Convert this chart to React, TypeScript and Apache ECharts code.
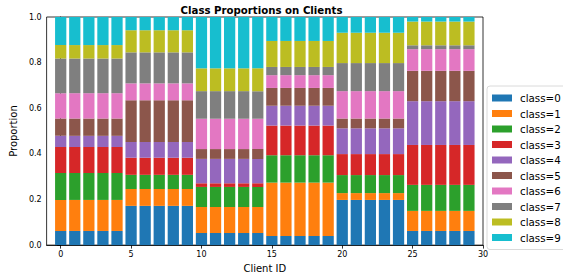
import React, { useEffect, useRef } from "react";
import * as echarts from "echarts";

const clientIds = [
  0, 1, 2, 3, 4, 5, 6, 7, 8, 9, 10, 11, 12, 13, 14,
  15, 16, 17, 18, 19, 20, 21, 22, 23, 24, 25, 26, 27, 28, 29,
];
const classNames = ["class=0", "class=1", "class=2", "class=3", "class=4", "class=5", "class=6", "class=7", "class=8", "class=9"];
const classColors = ["#1f77b4", "#ff7f0e", "#2ca02c", "#d62728", "#9467bd", "#8c564b", "#e377c2", "#7f7f7f", "#bcbd22", "#17becf"];

const class0 = [0.062, 0.062, 0.062, 0.062, 0.062, 0.172, 0.172, 0.172, 0.172, 0.172, 0.053, 0.053, 0.053, 0.053, 0.053, 0.040, 0.040, 0.040, 0.040, 0.040, 0.198, 0.198, 0.198, 0.198, 0.198, 0.062, 0.062, 0.062, 0.062, 0.062];
const class1 = [0.136, 0.136, 0.136, 0.136, 0.136, 0.074, 0.074, 0.074, 0.074, 0.074, 0.114, 0.114, 0.114, 0.114, 0.114, 0.234, 0.234, 0.234, 0.234, 0.234, 0.030, 0.030, 0.030, 0.030, 0.030, 0.088, 0.088, 0.088, 0.088, 0.088];
const class2 = [0.118, 0.118, 0.118, 0.118, 0.118, 0.062, 0.062, 0.062, 0.062, 0.062, 0.088, 0.088, 0.088, 0.088, 0.088, 0.120, 0.120, 0.120, 0.120, 0.120, 0.079, 0.079, 0.079, 0.079, 0.079, 0.114, 0.114, 0.114, 0.114, 0.114];
const class3 = [0.114, 0.114, 0.114, 0.114, 0.114, 0.075, 0.075, 0.075, 0.075, 0.075, 0.016, 0.016, 0.016, 0.016, 0.016, 0.130, 0.130, 0.130, 0.130, 0.130, 0.092, 0.092, 0.092, 0.092, 0.092, 0.175, 0.175, 0.175, 0.175, 0.175];
const class4 = [0.049, 0.049, 0.049, 0.049, 0.049, 0.069, 0.069, 0.069, 0.069, 0.069, 0.107, 0.107, 0.107, 0.107, 0.107, 0.087, 0.087, 0.087, 0.087, 0.087, 0.113, 0.113, 0.113, 0.113, 0.113, 0.192, 0.192, 0.192, 0.192, 0.192];
const class5 = [0.076, 0.076, 0.076, 0.076, 0.076, 0.183, 0.183, 0.183, 0.183, 0.183, 0.043, 0.043, 0.043, 0.043, 0.043, 0.078, 0.078, 0.078, 0.078, 0.078, 0.043, 0.043, 0.043, 0.043, 0.043, 0.133, 0.133, 0.133, 0.133, 0.133];
const class6 = [0.111, 0.111, 0.111, 0.111, 0.111, 0.074, 0.074, 0.074, 0.074, 0.074, 0.133, 0.133, 0.133, 0.133, 0.133, 0.056, 0.056, 0.056, 0.056, 0.056, 0.120, 0.120, 0.120, 0.120, 0.120, 0.095, 0.095, 0.095, 0.095, 0.095];
const class7 = [0.152, 0.152, 0.152, 0.152, 0.152, 0.136, 0.136, 0.136, 0.136, 0.136, 0.121, 0.121, 0.121, 0.121, 0.121, 0.036, 0.036, 0.036, 0.036, 0.036, 0.123, 0.123, 0.123, 0.123, 0.123, 0.017, 0.017, 0.017, 0.017, 0.017];
const class8 = [0.059, 0.059, 0.059, 0.059, 0.059, 0.097, 0.097, 0.097, 0.097, 0.097, 0.100, 0.100, 0.100, 0.100, 0.100, 0.114, 0.114, 0.114, 0.114, 0.114, 0.133, 0.133, 0.133, 0.133, 0.133, 0.104, 0.104, 0.104, 0.104, 0.104];
const class9 = [0.123, 0.123, 0.123, 0.123, 0.123, 0.058, 0.058, 0.058, 0.058, 0.058, 0.225, 0.225, 0.225, 0.225, 0.225, 0.105, 0.105, 0.105, 0.105, 0.105, 0.069, 0.069, 0.069, 0.069, 0.069, 0.020, 0.020, 0.020, 0.020, 0.020];

const classValues = [class0, class1, class2, class3, class4, class5, class6, class7, class8, class9];
const xTicks = [0, 5, 10, 15, 20, 25, 30];
const yTicks = [0, 0.2, 0.4, 0.6, 0.8, 1.0];

const FONT = "DejaVu Sans";
const BAR_WIDTH = 0.8;

export default function App() {
  const ref = useRef<HTMLDivElement>(null);
  useEffect(() => {
    if (!ref.current) return;
    const chart = echarts.init(ref.current, null, { renderer: "svg" });

    const bases = clientIds.map(() => 0);
    const series = classValues.map((vals, k) => {
      const data = clientIds.map((id, i) => {
        const bottom = bases[i];
        const top = bottom + vals[i];
        bases[i] = top;
        return [id, bottom, top];
      });
      return {
        type: "custom",
        name: classNames[k],
        itemStyle: { color: classColors[k] },
        encode: { x: 0, y: [1, 2] },
        data,
        renderItem: (_params: any, api: any) => {
          const x = api.value(0);
          const y0 = api.value(1);
          const y1 = api.value(2);
          const p0 = api.coord([x - BAR_WIDTH / 2, y1]);
          const p1 = api.coord([x + BAR_WIDTH / 2, y0]);
          return {
            type: "rect",
            shape: { x: p0[0], y: p0[1], width: p1[0] - p0[0], height: p1[1] - p0[1] },
            style: { fill: classColors[k] },
          };
        },
      };
    });

    chart.setOption({
      animation: false,
      textStyle: { fontFamily: FONT },
      grid: {
        left: 40,
        right: 80,
        top: 17,
        bottom: 30,
        show: true,
        borderColor: "#000",
        borderWidth: 0.8,
        backgroundColor: "transparent",
      },
      graphic: [
        {
          type: "text",
          x: 261.5,
          y: 10,
          style: {
            text: "Class Proportions on Clients",
            fontFamily: FONT,
            fontSize: 10.2,
            fontWeight: "bold",
            fill: "#000",
            align: "center",
            verticalAlign: "middle",
          },
        },
      ],
      legend: {
        orient: "vertical",
        left: 487,
        top: 86,
        padding: [7, 6, 7, 5],
        itemWidth: 20,
        itemHeight: 7,
        itemGap: 5.5,
        icon: "rect",
        borderColor: "#d0d0d0",
        borderWidth: 0.8,
        borderRadius: 3,
        backgroundColor: "#fff",
        textStyle: { fontFamily: FONT, fontSize: 10.3, color: "#000", lineHeight: 10, padding: [0, 0, 0, 3] },
        data: classNames,
      },
      xAxis: {
        type: "value",
        min: -1,
        max: 30,
        name: "Client ID",
        nameLocation: "middle",
        nameGap: 16,
        nameTextStyle: { fontFamily: FONT, fontSize: 10, color: "#000" },
        axisLine: { show: true, lineStyle: { color: "#000", width: 0.8 } },
        axisTick: { show: true, length: 3.5, lineStyle: { color: "#000", width: 0.8 }, customValues: xTicks },
        axisLabel: { fontFamily: FONT, fontSize: 8, color: "#000", margin: 5, customValues: xTicks },
        splitLine: { show: false },
      },
      yAxis: {
        type: "value",
        min: 0,
        max: 1,
        interval: 0.2,
        name: "Proportion",
        nameLocation: "middle",
        nameGap: 26,
        nameTextStyle: { fontFamily: FONT, fontSize: 10, color: "#000" },
        axisLine: { show: true, lineStyle: { color: "#000", width: 0.8 } },
        axisTick: { show: true, length: 3.5, lineStyle: { color: "#000", width: 0.8 }, customValues: yTicks },
        axisLabel: {
          fontFamily: FONT,
          fontSize: 8,
          color: "#000",
          margin: 5,
          customValues: yTicks,
          formatter: (v: number) => v.toFixed(1),
        },
        splitLine: { show: false },
      },
      series,
    });
    return () => chart.dispose();
  }, []);
  return (
    <div
      ref={ref}
      style={{ position: "fixed", left: 0, top: 0, width: 563, height: 278, background: "#fff" }}
    />
  );
}
